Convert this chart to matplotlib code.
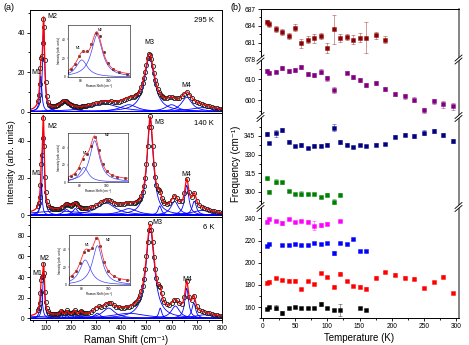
import numpy as np
import matplotlib
matplotlib.use('Agg')
import matplotlib.pyplot as plt
from matplotlib.ticker import MultipleLocator
from matplotlib.lines import Line2D
from matplotlib.patches import Polygon
from matplotlib.colors import to_rgba

plt.rcParams['font.family'] = ['Liberation Sans', 'DejaVu Sans']
plt.rcParams['axes.linewidth'] = 0.7

W, H = 469, 345

# ---------------- (a) Raman spectra ----------------
shift = [70, 73, 76, 79, 82, 85, 88, 91, 94, 97, 100, 104, 108, 114, 120, 125,
         130, 135, 140, 145, 150, 155, 160, 165, 170, 175, 180, 185, 190, 195, 200,
         205, 210, 215, 220, 225, 230, 235, 240, 245, 250, 255, 260,
         270, 280, 290, 300, 310, 320, 330, 340, 350, 360, 370, 380, 390, 400, 410,
         420, 430, 440, 450,
         455, 460, 465, 470, 475, 480, 485, 490, 495, 500, 505, 510, 515, 520, 525,
         530, 535, 540, 545, 550, 555, 560, 565, 570,
         580, 590, 600, 610, 620, 630, 640, 650, 660, 670, 680, 690, 700, 710, 720,
         730, 740, 750, 760, 770, 780, 790, 800]

int_295 = [5.5, 8.5, 14.0, 22.0, 27.0, 28.0, 35.0, 47.0, 43.0, 26.0, 15.0, 8.0, 5.0, 3.6, 3.0, 2.9,
           2.8, 2.9, 3.1, 3.3, 3.6, 4.0, 4.5, 5.0, 5.4, 5.6, 5.5, 5.1, 4.6, 4.1, 3.6,
           3.3, 3.0, 2.8, 2.6, 2.5, 2.5, 2.5, 2.5, 2.6, 2.7, 2.8, 3.0,
           3.2, 3.5, 3.9, 4.4, 4.6, 4.9, 5.1, 5.1, 5.1, 5.2, 4.9, 4.9, 5.1, 5.5, 6.0,
           6.5, 7.0, 7.4, 7.6,
           7.8, 8.2, 8.8, 9.5, 10.7, 12.3, 14.3, 17.0, 20.2, 23.8, 27.1, 29.0, 28.8, 26.5, 23.0,
           19.4, 16.2, 13.9, 11.5, 10.0, 8.9, 8.1, 7.5, 7.1,
           6.9, 7.2, 7.3, 6.8, 6.7, 6.8, 7.7, 9.1, 9.8, 8.6, 6.7, 5.2, 4.8, 4.3, 3.9,
           3.5, 3.1, 2.7, 2.4, 2.0, 1.8, 1.5, 1.4]

int_140 = [5.1, 6.7, 9.8, 16.0, 27.3, 32.6, 41.7, 52.5, 37.1, 20.4, 12.3, 7.8, 5.6, 4.3, 3.8, 3.6,
           3.4, 3.35, 3.3, 3.35, 3.4, 3.55, 3.8, 4.15, 4.6, 5.3, 5.9, 6.0, 5.7, 5.2, 5.0,
           5.2, 5.75, 6.5, 6.6, 5.9, 4.8, 4.2, 3.9, 3.8, 3.7, 3.65, 3.7,
           3.9, 4.2, 4.6, 5.2, 6.1, 7.0, 7.8, 8.3, 8.1, 7.4, 6.8, 6.2, 5.9, 5.95, 6.2,
           6.6, 6.8, 6.8, 6.7,
           6.75, 7.0, 7.4, 8.0, 8.9, 10.3, 12.4, 15.5, 20.2, 27.5, 37.2, 47.7, 53.2, 47.7, 37.2,
           27.4, 20.5, 16.2, 14.1, 13.7, 12.4, 9.5, 7.4, 6.4,
           5.9, 6.4, 8.4, 10.4, 9.35, 7.4, 7.5, 11.7, 19.6, 12.2, 9.7, 12.0, 7.8, 5.3, 4.4,
           3.8, 3.3, 2.8, 2.35, 2.0, 1.7, 1.45, 1.25]

int_6 = [7.9, 10.5, 15.3, 24.4, 36.9, 39.6, 41.2, 52.5, 44.1, 25.6, 15.6, 9.7, 7.1, 5.4, 4.7, 4.45,
         4.2, 4.2, 4.1, 4.3, 4.4, 5.0, 7.3, 6.7, 5.1, 5.0, 6.0, 7.7, 6.0, 5.0, 4.9,
         5.2, 6.3, 8.4, 6.5, 5.4, 5.4, 6.3, 7.5, 6.3, 5.3, 4.9, 4.85,
         5.2, 6.0, 7.75, 10.5, 11.6, 11.2, 12.2, 14.0, 15.2, 14.5, 12.8, 11.4, 10.6, 10.4, 10.5,
         10.8, 11.4, 12.3, 13.6,
         14.6, 15.9, 17.5, 19.6, 22.4, 26.1, 31.3, 38.3, 47.6, 59.9, 73.7, 85.9, 92.0, 85.8, 73.5,
         59.8, 47.9, 39.1, 33.4, 31.3, 30.8, 24.6, 19.0, 16.3,
         13.5, 13.3, 15.0, 18.2, 17.8, 14.7, 14.0, 20.5, 36.0, 21.0, 18.0, 21.4, 11.6, 8.05, 6.9,
         6.2, 5.6, 4.9, 4.25, 3.6, 3.1, 2.65, 2.3]

# Lorentzian components of the fits (centre, half width, height)
cen_295 = [81, 92, 175, 330, 430, 512, 600, 660, 720]
hw_295 = [5, 5, 25, 70, 40, 24, 30, 25, 60]
amp_295 = [18, 44, 4.5, 4.0, 3.5, 27.4, 3.5, 7.3, 2.0]

cen_140 = [83, 91, 150, 183, 218, 340, 430, 515, 553, 612, 660, 690, 720]
hw_140 = [4, 4.5, 120, 15, 12, 45, 40, 15, 8, 18, 10, 10, 50]
amp_140 = [17, 48, 2.2, 3, 3.5, 6.5, 3.5, 51, 5, 7.5, 16, 7.5, 2.5]

cen_6 = [83, 92, 150, 162, 185, 215, 240, 305, 350, 430, 515, 555, 615, 660, 688, 730]
hw_6 = [5, 4.5, 150, 4, 5, 5, 6, 15, 30, 80, 20, 7, 20, 9, 9, 50]
amp_6 = [28, 44, 2.5, 4, 3.5, 4, 3, 5, 10, 5, 87, 10, 12, 29, 15, 3.5]

mlab_295 = [('M1', 64, 20), ('M2', 126, 48), ('M3', 510, 35), ('M4', 660, 13)]
mlab_140 = [('M1', 64, 22.6), ('M2', 126, 48), ('M3', 553, 50), ('M4', 660, 21.7)]
mlab_6 = [('M1', 67, 43), ('M2', 97, 58), ('M3', 545, 93), ('M4', 662, 38)]

# ---------------- (b) mode frequencies ----------------
T_684 = [6, 10, 20, 30, 40, 50, 60, 70, 80, 90, 100, 110, 120, 130, 140, 150, 160, 175, 190]
f_684 = [684.6, 684.3, 683.4, 682.9, 682.2, 683.7, 680.9, 681.5, 681.8, 682.2, 680.0, 683.4,
         681.9, 682.0, 681.5, 681.9, 681.9, 682.3, 681.5]
e_684 = [0.4, 0.5, 0.5, 0.5, 0.6, 0.6, 0.8, 0.6, 0.8, 0.6, 0.9, 2.6, 0.7, 0.6, 0.8, 0.8, 2.8, 0.6, 0.6]

T_610 = [6, 10, 20, 30, 40, 50, 60, 70, 80, 90, 100, 110, 130, 140, 150, 160, 175, 190,
         205, 220, 235, 250, 265, 280, 295]
f_610 = [613.8, 613.0, 613.5, 615.1, 614.0, 614.3, 615.7, 612.4, 611.8, 613.5, 610.3, 604.9,
         613.0, 611.0, 609.5, 607.1, 608.2, 605.4, 603.0, 601.8, 600.3, 595.1, 599.5, 598.0, 597.1]
e_610 = [0.8, 0.8, 0.8, 1.0, 1.0, 1.0, 1.0, 1.0, 1.0, 1.2, 1.2, 1.5, 0.8, 0.8, 0.9, 1.0,
         0.9, 1.0, 1.0, 1.2, 1.3, 1.0, 1.2, 1.5, 1.7]

T_340 = [6, 10, 20, 30, 40, 50, 60, 70, 80, 90, 100, 110, 120, 130, 140, 150, 160, 175,
         190, 205, 220, 235, 250, 265, 280, 295]
f_340 = [346.6, 339.1, 347.2, 349.8, 340.4, 336.9, 337.7, 335.1, 337.2, 337.2, 338.0, 351.7,
         339.9, 338.0, 335.9, 337.7, 336.9, 338.0, 338.5, 344.4, 345.8, 345.2, 347.7, 349.0,
         345.8, 341.2]
e_340 = [1.5, 1.0, 3.0, 2.0, 1.5, 1.0, 2.0, 1.0, 1.5, 1.5, 1.0, 3.0, 1.5, 1.0, 1.0, 1.0,
         1.0, 1.0, 1.0, 1.0, 1.2, 1.5, 2.0, 2.0, 1.5, 1.5]

T_300 = [6, 10, 20, 30, 40, 50, 60, 70, 80, 90, 100, 110, 120]
f_300 = [310.8, 300.0, 308.1, 307.6, 300.6, 297.9, 298.2, 298.2, 298.2, 295.5, 297.6, 291.9, 297.6]
e_300 = [1.2, 1.0, 2.0, 1.2, 1.0, 1.0, 2.0, 1.0, 1.0, 1.0, 1.0, 2.0, 1.0]

T_237 = [6, 10, 20, 30, 40, 50, 60, 70, 80, 90, 100, 120]
f_237 = [237.1, 239.3, 237.7, 235.7, 239.3, 236.6, 237.5, 237.1, 233.5, 233.9, 235.3, 237.5]
e_237 = [1.2, 1.2, 1.2, 2.0, 1.2, 1.2, 1.2, 1.2, 4.0, 1.5, 1.2, 1.2]

T_216 = [6, 10, 30, 40, 50, 60, 70, 80, 90, 100, 110, 120, 130, 140, 150, 160]
f_216 = [215.2, 216.8, 216.1, 215.9, 216.8, 216.1, 216.1, 217.7, 216.8, 217.7, 208.6, 217.7,
         217.0, 221.3, 210.7, 210.7]
e_216 = [1.0, 1.0, 1.0, 1.0, 1.0, 1.0, 1.0, 1.0, 1.0, 1.0, 2.0, 1.0, 1.0, 1.0, 1.0, 1.0]

T_183 = T_340
f_183 = [182.2, 183.1, 186.1, 184.3, 184.0, 184.0, 176.2, 183.7, 180.7, 190.6, 187.0, 178.6,
         190.3, 183.4, 178.9, 178.6, 176.8, 186.7, 191.8, 189.4, 186.7, 185.8, 177.1, 182.5,
         187.6, 172.9]
e_183 = [1.0] * 26

T_159 = [6, 10, 20, 30, 40, 50, 60, 70, 80, 90, 100, 110, 120, 150, 160]
f_159 = [158.7, 160.0, 159.6, 155.1, 159.4, 160.0, 159.1, 159.1, 159.6, 162.7, 159.1, 157.6,
         157.6, 159.1, 157.8]
e_159 = [1.0, 1.0, 2.0, 1.8, 1.0, 1.0, 1.0, 1.0, 1.0, 1.8, 1.0, 1.0, 5.5, 1.0, 1.0]


def lorentz(x, c, w, h):
    return h / (1.0 + ((x - c) / w) ** 2)


def px_box(x0, y0, x1, y1):
    # pixel box, origin top-left -> figure rect
    return [x0 / W, 1 - y1 / H, (x1 - x0) / W, (y1 - y0) / H]


fig = plt.figure(figsize=(W / 100, H / 100), dpi=100)

xs = np.linspace(38, 800, 1600)
xs_in = np.linspace(70, 117, 400)

panels = [
    ('295 K', int_295, (cen_295, hw_295, amp_295), mlab_295, (-0.7, 51.5), 20,
     (10, 113), (68, 25, 130, 77), (0, 55), [(0.17, 0.56), (0.52, 0.90)]),
    ('140 K', int_140, (cen_140, hw_140, amp_140), mlab_140, (-1.0, 55), 20,
     (113, 217), (68, 133, 128, 182), (0, 57), [(0.29, 0.59), (0.65, 0.95)]),
    ('6 K', int_6, (cen_6, hw_6, amp_6), mlab_6, (-1.5, 98), 20,
     (217, 320), (69, 235, 130, 285), (0, 56), [(0.30, 0.80), (0.65, 0.90)]),
]

for i, (temp, data, (cen, hw, amp), mlab, ylim, ystep, (y0, y1), ibox, iylim, ilab) in enumerate(panels):
    ax = fig.add_axes(px_box(30, y0, 222, y1))
    fit = np.zeros_like(xs)
    for c, w, h in zip(cen, hw, amp):
        comp = lorentz(xs, c, w, h)
        fit += comp
        ax.plot(xs, comp, color='#0000ff', lw=0.6)
    ax.plot(shift, data, 'o', ms=3.0, mfc='none', mec='#1a1a1a', mew=0.6)
    ax.plot(xs, fit, color='#ff0000', lw=0.9)
    for t, x, y in mlab:
        ax.text(x, y, t, fontsize=5, ha='center', va='center')
    ax.text(0.96, 0.9, temp, transform=ax.transAxes, fontsize=5.5, ha='right', va='center')
    ax.set_xlim(38, 800)
    ax.set_ylim(*ylim)
    ax.yaxis.set_major_locator(MultipleLocator(ystep))
    ax.yaxis.set_minor_locator(MultipleLocator(ystep / 2))
    ax.xaxis.set_major_locator(MultipleLocator(100))
    ax.xaxis.set_minor_locator(MultipleLocator(50))
    ax.set_yticks([v for v in ax.get_yticks() if 0 <= v <= ylim[1]])
    ax.tick_params(which='both', direction='out', labelsize=4.8, pad=1.5, width=0.6)
    ax.tick_params(which='major', length=2.2)
    ax.tick_params(which='minor', length=1.2)
    if i < 2:
        ax.tick_params(axis='x', which='both', bottom=False, labelbottom=False)
    else:
        ax.set_xlabel('Raman Shift (cm⁻¹)', fontsize=7, labelpad=2)

    # inset: zoom on M1 / M2
    ins = fig.add_axes(px_box(*ibox))
    ifit = np.zeros_like(xs_in)
    for c, w, h in list(zip(cen, hw, amp))[:2]:
        comp = lorentz(xs_in, c, w, h)
        ifit += comp
        ins.plot(xs_in, comp, color='#4040ff', lw=0.5)
    for c, w, h in list(zip(cen, hw, amp))[2:]:
        ifit += lorentz(xs_in, c, w, h)
    ins.plot(shift, data, 'o', ms=1.8, mfc='#802020', mec='#202020', mew=0.3)
    ins.plot(xs_in, ifit, color='#ff3030', lw=0.6)
    ins.set_xlim(71, 116)
    ins.set_ylim(*iylim)
    ins.set_xticks([80, 100])
    ins.set_yticks([0, 20, 40])
    ins.tick_params(labelsize=2.3, length=1, width=0.3, pad=0.6)
    for s in ins.spines.values():
        s.set_linewidth(0.4)
    ins.set_xlabel('Raman Shift (cm⁻¹)', fontsize=2.2, labelpad=0.5)
    ins.set_ylabel('Intensity (arb. units)', fontsize=2.2, labelpad=0.5)
    for (lx, ly), t in zip(ilab, ['M1', 'M2']):
        ins.text(lx, ly, t, transform=ins.transAxes, fontsize=2.5, ha='center', va='center')

fig.text(0.024, 0.53, 'Intensity (arb. units)', rotation=90, fontsize=6.8, ha='center', va='center')
fig.text(0.019, 0.977, '(a)', fontsize=6.5, ha='center', va='center')

# ---------------- (b) broken-axis frequency plot ----------------
seg_px = [(9, 59.5), (59.5, 117), (117, 207), (207, 318.3)]
seg_lim = [(678, 687), (592, 619.3), (287.6, 360.3), (150, 250.2)]
seg_ticks = [[678, 681, 684, 687], [600, 610], [300, 315, 330, 345], [160, 180, 200, 220, 240]]
seg_minor = [1.5, 5, 7.5, 10]

series = [
    (0, T_684, f_684, e_684, '#8b0000'),
    (1, T_610, f_610, e_610, '#800080'),
    (2, T_340, f_340, e_340, '#000080'),
    (2, T_300, f_300, e_300, '#008000'),
    (3, T_237, f_237, e_237, '#ff00ff'),
    (3, T_216, f_216, e_216, '#0000ff'),
    (3, T_183, f_183, e_183, '#ff0000'),
    (3, T_159, f_159, e_159, '#000000'),
]

xl, xr = 260.5, 458.5
segs = []
for k, ((y0, y1), lim, tk, mn) in enumerate(zip(seg_px, seg_lim, seg_ticks, seg_minor)):
    ax = fig.add_axes(px_box(xl, y0, xr, y1))
    ax.set_xlim(-3.5, 303.5)
    ax.set_ylim(*lim)
    ax.set_yticks(tk)
    ax.yaxis.set_minor_locator(MultipleLocator(mn))
    ax.xaxis.set_major_locator(MultipleLocator(50))
    ax.xaxis.set_minor_locator(MultipleLocator(25))
    ax.tick_params(which='both', direction='out', labelsize=4.8, pad=1.5, width=0.6)
    ax.tick_params(which='major', length=2.2)
    ax.tick_params(which='minor', length=1.2)
    ax.spines['right'].set_color('#707070')
    ax.spines['right'].set_linewidth(1.2)
    if k > 0:
        ax.spines['top'].set_visible(False)
    if k < 3:
        ax.spines['bottom'].set_visible(False)
        ax.tick_params(axis='x', which='both', bottom=False, labelbottom=False)
    else:
        ax.set_xlabel('Temperature (K)', fontsize=7, labelpad=2)
    segs.append(ax)

for k, T, f, e, col in series:
    segs[k].errorbar(T, f, yerr=e, fmt='s', ms=3.0, color=col, mec=to_rgba(col, 0.6), mew=0.5,
                     ecolor=to_rgba(col, 0.55), elinewidth=0.5, capsize=1.1, capthick=0.5)

# break marks on both vertical spines
for yb in [59.5, 117, 207]:
    for xb in [xl, xr]:
        dx, dy, g = 3.5, 3.0, 1.5
        pts = [(xb - dx, yb + dy + g), (xb + dx, yb - dy + g), (xb + dx, yb - dy - g), (xb - dx, yb + dy - g)]
        fig.patches.append(Polygon([(x / W, 1 - y / H) for x, y in pts], closed=True,
                                   transform=fig.transFigure, fc='white', ec='none', zorder=5))
        for s in (g, -g):
            fig.lines.append(Line2D([(xb - dx) / W, (xb + dx) / W],
                                    [1 - (yb + dy + s) / H, 1 - (yb - dy + s) / H],
                                    transform=fig.transFigure, color='black', lw=0.6, zorder=6))

fig.text(0.503, 0.525, 'Frequency (cm⁻¹)', rotation=90, fontsize=7, ha='center', va='center')
fig.text(0.503, 0.977, '(b)', fontsize=6.5, ha='center', va='center')

fig.savefig('out.png', dpi=100)
